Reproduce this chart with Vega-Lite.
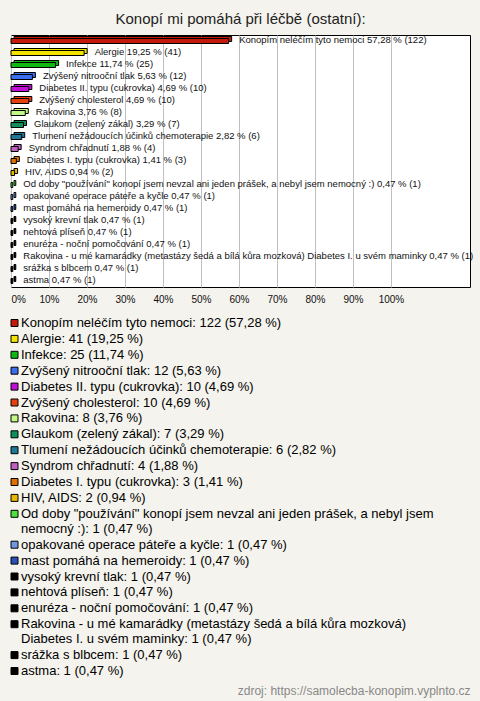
{
  "$schema": "https://vega.github.io/schema/vega-lite/v6.json",
  "autosize": {"type": "none"},
  "padding": {"left": 11, "top": 35, "right": 10, "bottom": 414},
  "width": 459,
  "height": 252,
  "background": "#f4f3ed",
  "title": {
    "text": "Konopí mi pomáhá při léčbě (ostatní):",
    "font": "Liberation Sans",
    "fontSize": 15,
    "fontWeight": "normal",
    "color": "#222222",
    "anchor": "middle",
    "offset": 8
  },
  "config": {
    "view": {"stroke": "#000000", "strokeWidth": 1, "fill": "#ffffff"}
  },
  "data": {
    "values": [
      {"name": "Konopím neléčím tyto nemoci", "count": 122, "pct": 57.28},
      {"name": "Alergie", "count": 41, "pct": 19.25},
      {"name": "Infekce", "count": 25, "pct": 11.74},
      {"name": "Zvýšený nitrooční tlak", "count": 12, "pct": 5.63},
      {"name": "Diabetes II. typu (cukrovka)", "count": 10, "pct": 4.69},
      {"name": "Zvýšený cholesterol", "count": 10, "pct": 4.69},
      {"name": "Rakovina", "count": 8, "pct": 3.76},
      {"name": "Glaukom (zelený zákal)", "count": 7, "pct": 3.29},
      {"name": "Tlumení nežádoucích účinků chemoterapie", "count": 6, "pct": 2.82},
      {"name": "Syndrom chřadnutí", "count": 4, "pct": 1.88},
      {"name": "Diabetes I. typu (cukrovka)", "count": 3, "pct": 1.41},
      {"name": "HIV, AIDS", "count": 2, "pct": 0.94},
      {"name": "Od doby \"používání\" konopí jsem nevzal ani jeden prášek, a nebyl jsem nemocný :)", "count": 1, "pct": 0.47},
      {"name": "opakované operace páteře a kyčle", "count": 1, "pct": 0.47},
      {"name": "mast pomáhá na hemeroidy", "count": 1, "pct": 0.47},
      {"name": "vysoký krevní tlak", "count": 1, "pct": 0.47},
      {"name": "nehtová plíseň", "count": 1, "pct": 0.47},
      {"name": "enuréza - noční pomočování", "count": 1, "pct": 0.47},
      {"name": "Rakovina - u mé kamarádky (metastázy šedá a bílá kůra mozková) Diabetes I. u svém maminky", "count": 1, "pct": 0.47},
      {"name": "srážka s blbcem", "count": 1, "pct": 0.47},
      {"name": "astma", "count": 1, "pct": 0.47}
    ]
  },
  "transform": [
    {"calculate": "replace(format(datum.pct, '.2f'), '.', ',')", "as": "pctStr"},
    {"calculate": "datum.name + ' ' + datum.pctStr + ' % (' + datum.count + ')'", "as": "barLabel"},
    {"calculate": "datum.name + ': ' + datum.count + ' (' + datum.pctStr + ' %)'", "as": "leg0"},
    {"calculate": "length(datum.leg0) > 75 ? replace(datum.leg0, regexp('^(.{1,70}) '), '$1\\n') : datum.leg0", "as": "legend"}
  ],
  "encoding": {
    "y": {
      "field": "name",
      "type": "nominal",
      "sort": null,
      "axis": null,
      "scale": {"paddingInner": 0.4, "paddingOuter": 0.2}
    }
  },
  "layer": [
    {
      "mark": {"type": "bar", "size": 5, "xOffset": 3, "yOffset": -2, "stroke": "#000000", "strokeWidth": 1},
      "encoding": {
        "x": {
          "field": "pct",
          "type": "quantitative",
          "scale": {"domain": [0, 120.8], "nice": false},
          "axis": {
            "values": [0, 10, 20, 30, 40, 50, 60, 70, 80, 90, 100],
            "labelExpr": "datum.value + '%'",
            "grid": true,
            "gridColor": "#c0c0c0",
            "gridWidth": 1,
            "domain": false,
            "ticks": false,
            "labelFont": "Liberation Sans",
            "labelFontSize": 10,
            "labelColor": "#111111",
            "labelPadding": 7,
            "title": "zdroj: https://samolecba-konopim.vyplnto.cz",
            "titleFont": "Liberation Sans",
            "titleFontSize": 12,
            "titleFontWeight": "normal",
            "titleColor": "#888888",
            "titleX": 459,
            "titleY": 407,
            "titleAlign": "right",
            "titleAnchor": "end",
            "titleBaseline": "alphabetic"
          }
        },
        "color": {
          "field": "legend",
          "type": "nominal",
          "sort": null,
          "scale": {
            "range": ["#c41a0c", "#f2e400", "#12b812", "#3c6ef0", "#c010d8", "#e6400c", "#c2f884", "#109058", "#207898", "#c060c0", "#e07000", "#e8b800", "#50e040", "#7098e0", "#2850b8", "#000000", "#000000", "#000000", "#000000", "#000000", "#000000"]
          },
          "legend": {
            "title": null,
            "orient": "none",
            "legendX": -3,
            "legendY": 281.5,
            "direction": "vertical",
            "padding": 0,
            "symbolType": "square",
            "symbolSize": 49,
            "symbolStrokeColor": "#000000",
            "symbolStrokeWidth": 1,
            "symbolOpacity": 1,
            "labelFont": "Liberation Sans",
            "labelFontSize": 13,
            "labelColor": "#000000",
            "labelOffset": 0,
            "labelLimit": 480,
            "rowPadding": 1.9,
            "labelExpr": "split(datum.label, '\\n')"
          }
        }
      }
    },
    {
      "mark": {"type": "bar", "size": 5, "stroke": "#000000", "strokeWidth": 1},
      "encoding": {
        "x": {"field": "pct", "type": "quantitative"},
        "color": {"field": "legend", "type": "nominal", "sort": null}
      }
    },
    {
      "mark": {"type": "text", "align": "left", "baseline": "middle", "dx": 10.5, "dy": -1, "font": "Liberation Sans", "fontSize": 9.5, "color": "#111111"},
      "encoding": {
        "x": {"field": "pct", "type": "quantitative"},
        "text": {"field": "barLabel"}
      }
    }
  ]
}
